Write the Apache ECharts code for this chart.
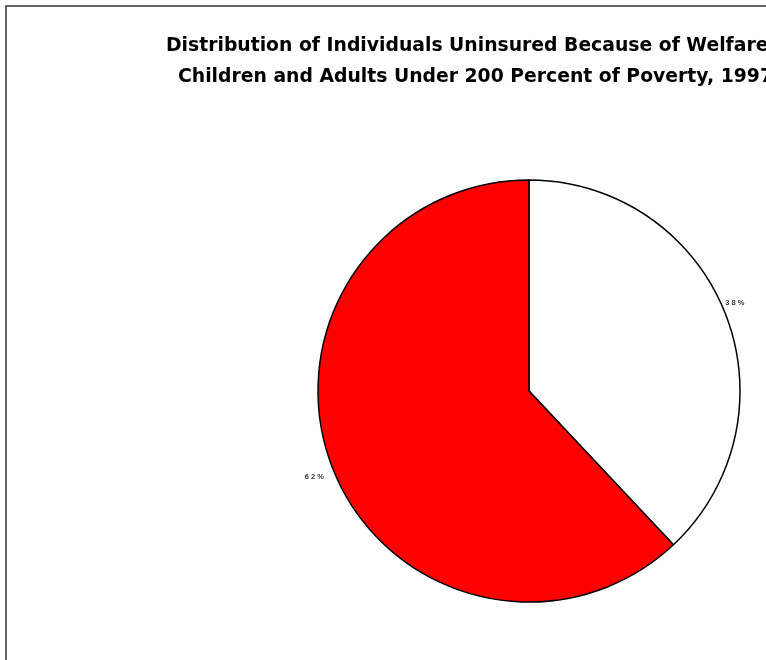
<!DOCTYPE html>
<html>
<head>
<meta charset="utf-8">
<script src="https://cdn.jsdelivr.net/npm/echarts@6/dist/echarts.min.js"></script>
<style>
  html, body { margin: 0; padding: 0; background: #fff; }
  #chart { width: 766px; height: 660px; }
</style>
</head>
<body>
<div id="chart"></div>
<script>
// Share of uninsured individuals, by group
const categories = ['Group A', 'Group B'];
const shares = [38, 62];
const sliceColors = ['#ffffff', '#ff0000'];
const titleLines = [
  'Distribution of Individuals Uninsured Because of Welfare Reform',
  'Children and Adults Under 200 Percent of Poverty, 1997'
];

const chart = echarts.init(document.getElementById('chart'), null, { renderer: 'canvas' });

const titleFont = {
  fontFamily: 'DejaVu Sans, Verdana, sans-serif',
  fontSize: 18.8,
  fontWeight: 'bold',
  color: '#000'
};

chart.setOption({
  backgroundColor: '#fff',
  animation: false,
  title: [
    { text: titleLines[0], left: 161, top: 32, textStyle: titleFont },
    { text: titleLines[1], left: 173, top: 63, textStyle: titleFont }
  ],
  graphic: [{
    type: 'rect',
    shape: { x: 6, y: 6, width: 900, height: 800 },
    style: { fill: null, stroke: '#333', lineWidth: 1.5 },
    silent: true,
    z: -1
  }],
  series: [{
    type: 'pie',
    center: [529, 391],
    radius: 211,
    startAngle: 90,
    clockwise: true,
    data: categories.map((name, i) => ({
      name,
      value: shares[i],
      itemStyle: { color: sliceColors[i] }
    })),
    itemStyle: { borderColor: '#000', borderWidth: 1.5 },
    label: {
      position: 'outside',
      formatter: p => (Math.round(p.percent) + '%').split('').join(' '),
      fontFamily: 'Liberation Sans, Arial, sans-serif',
      fontSize: 7.5,
      fontWeight: 'bold',
      color: '#333',
      distanceToLabelLine: 0
    },
    labelLine: { show: false, length: 0, length2: 0 },
    labelLayout: p => (p.dataIndex === 0 ? { dy: -10 } : { dx: -9, dy: 8 }),
    emphasis: { disabled: true }
  }]
});
</script>
</body>
</html>
